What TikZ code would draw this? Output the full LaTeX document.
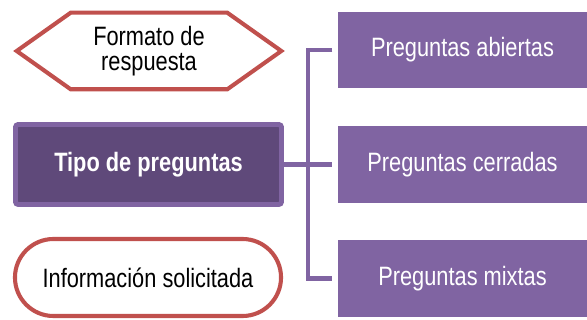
\documentclass[tikz,border=0pt]{standalone}
\usepackage{fontspec}
\setmainfont[FakeStretch=0.82]{Liberation Sans}
\usetikzlibrary{shapes.misc}
\definecolor{lila}{HTML}{8064A2}
\definecolor{lilaosc}{HTML}{5F497A}
\definecolor{rojo}{HTML}{C0504D}
\tikzset{
  texto/.style={font=\fontsize{18.9}{17.3}\selectfont, align=center, inner sep=0},
  caja/.style={texto, fill=lila, text=white, minimum width=6.225cm, minimum height=1.9cm},
  borde/.style={draw=rojo, line width=2.9pt},
  conector/.style={draw=lila, line width=3.5pt}
}

\begin{document}
\begin{tikzpicture}[x=0.025cm, y=-0.025cm]
    \useasboundingbox (0,0) rectangle (587,320);

    \node[texto, minimum width=6.6cm, minimum height=1.9cm] (formato) at (149,51) {Formato de\\respuesta};
    \draw[borde] ([xshift=1.35cm]formato.north west) -- ([xshift=-1.35cm]formato.north east)
      -- (formato.east) -- ([xshift=-1.35cm]formato.south east)
      -- ([xshift=1.35cm]formato.south west) -- (formato.west) -- cycle;

    \node[texto, fill=lilaosc, draw=lila, line width=3.5pt, rounded corners=2pt, text=white,
      minimum width=6.65cm, minimum height=2cm, font=\fontsize{18.9}{17.3}\selectfont\bfseries]
      (tipo) at (148.5,164.5) {Tipo de preguntas};
    \node[texto, borde, rounded rectangle, minimum width=6.65cm, minimum height=1.925cm]
      (info) at (148,277.5) {Información solicitada};

    \node[caja] (abiertas) at (462.5,50) {Preguntas abiertas};
    \node[caja] (cerradas) at (462.5,164.5) {Preguntas cerradas};
    \node[caja] (mixtas) at (462.5,278.5) {Preguntas mixtas};

    \coordinate (rama) at (308,164.5);
    \draw[conector] ([xshift=-0.13cm]abiertas.west) -| (rama) |- ([xshift=-0.13cm]mixtas.west);
    \draw[conector] (tipo.east) -- (rama) -- ([xshift=-0.13cm]cerradas.west);
\end{tikzpicture}
\end{document}
